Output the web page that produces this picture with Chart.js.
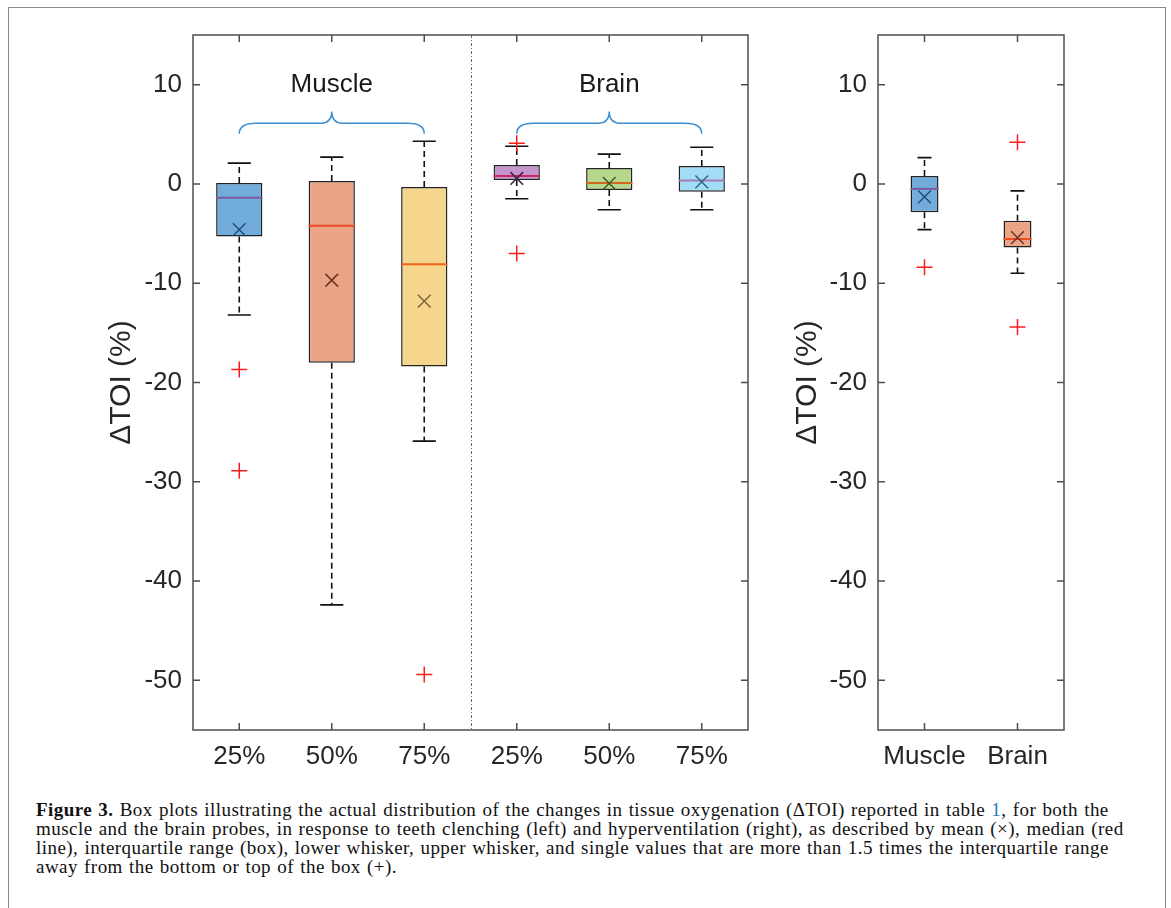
<!DOCTYPE html>
<html>
<head>
<meta charset="utf-8">
<script src="https://cdn.jsdelivr.net/npm/chart.js@4.4.1/dist/chart.umd.min.js"></script>
<style>
  html, body { margin: 0; padding: 0; background: #fff; overflow: hidden; }
  .frame { position: absolute; left: 8px; top: 7px; width: 1156px; height: 930px; border: 1.5px solid #8a8a8a; }
  .plot { position: absolute; top: 0; }
  #leftWrap { left: 0; }
  #rightWrap { left: 770px; }
  .caption { position: absolute; left: 36px; top: 800px; font-family: "Liberation Serif", "Times New Roman", serif;
             font-size: 19px; letter-spacing: 0.45px; word-spacing: 1px; line-height: 19px; color: #111; white-space: nowrap; }
  .caption .ref { color: #1a7bc0; }
</style>
</head>
<body>
<div class="frame"></div>
<div class="plot" id="leftWrap"><canvas id="clench" width="760" height="790"></canvas></div>
<div class="plot" id="rightWrap"><canvas id="hypervent" width="306" height="790"></canvas></div>
<div class="caption">
  <div><b>Figure 3.</b> Box plots illustrating the actual distribution of the changes in tissue oxygenation (ΔTOI) reported in table <span class="ref">1</span>, for both the</div>
  <div>muscle and the brain probes, in response to teeth clenching (left) and hyperventilation (right), as described by mean (×), median (red</div>
  <div>line), interquartile range (box), lower whisker, upper whisker, and single values that are more than 1.5 times the interquartile range</div>
  <div>away from the bottom or top of the box (+).</div>
</div>
<script>
// teeth clenching: muscle 25/50/75% then brain 25/50/75%
const clenchLabels = ["25%", "50%", "75%", "25%", "50%", "75%"];
const clenchLow  = [-13.2, -42.4, -25.9, -1.5, -2.6, -2.6];
const clenchQ1   = [-5.3, -18.0, -18.4, 0.4, -0.6, -0.8];
const clenchMed  = [-1.4, -4.2, -8.1, 0.8, 0.1, 0.35];
const clenchQ3   = [0.1, 0.3, -0.3, 1.9, 1.6, 1.8];
const clenchHigh = [2.1, 2.7, 4.3, 3.8, 3.0, 3.7];
const clenchMean = [-4.6, -9.7, -11.8, 0.55, 0.05, 0.2];
const clenchOut  = [[-18.7, -28.9], [], [-49.4], [4.1, -7.0], [], []];

// hyperventilation
const hvLabels = ["Muscle", "Brain"];
const hvLow  = [-4.6, -9.0];
const hvQ1   = [-2.85, -6.4];
const hvMed  = [-0.5, -5.55];
const hvQ3   = [0.8, -3.7];
const hvHigh = [2.65, -0.7];
const hvMean = [-1.3, -5.4];
const hvOut  = [[-8.4], [4.2, -14.4]];

const yTicks = [-50, -40, -30, -20, -10, 0, 10];
const clenchGroups = [{ label: "Muscle", from: 1, to: 3 }, { label: "Brain", from: 4, to: 6 }];

const FONT = '"Liberation Sans", Arial, Helvetica, sans-serif';
const INK = "#262626";
const AXIS = "#4d4d4d";

const clenchFill = ["#72acdb", "#eba486", "#f6d68c", "#c795cd", "#b7d88c", "#a3dcf5"];
const clenchMedC = ["#7d5a9e", "#ec4a22", "#f2601c", "#cc2565", "#d4681d", "#a77bb6"];
const clenchMeanC = ["#1e4f78", "#6e3526", "#7d6334", "#3a2440", "#3f5a27", "#2f6a82"];
const hvFill = ["#72acdb", "#eba486"];
const hvMedC = ["#7d5a9e", "#ec4a22"];
const hvMeanC = ["#1e4f78", "#6e3526"];

// curly brace between two x pixels, opening downward
function brace(ctx, x1, x2, yTip, yFlat, yPeak) {
  const xm = (x1 + x2) / 2, r = 17, rm = 12;
  ctx.beginPath();
  ctx.moveTo(x1, yTip);
  ctx.quadraticCurveTo(x1, yFlat, x1 + r, yFlat);
  ctx.lineTo(xm - rm, yFlat);
  ctx.quadraticCurveTo(xm, yFlat, xm, yPeak);
  ctx.quadraticCurveTo(xm, yFlat, xm + rm, yFlat);
  ctx.lineTo(x2 - r, yFlat);
  ctx.quadraticCurveTo(x2, yFlat, x2, yTip);
  ctx.stroke();
}

const framePlugin = {
  id: "frame",
  beforeDatasetsDraw(chart, args, opts) {
    const { ctx, chartArea: a, scales: { x, y } } = chart;
    ctx.save();
    if (opts.split) {
      const px = Math.round(x.getPixelForValue(opts.split)) + 0.5;
      ctx.strokeStyle = "#6a6a6a";
      ctx.lineWidth = 1;
      ctx.setLineDash([3, 2, 1, 2]);
      ctx.beginPath();
      ctx.moveTo(px, a.top);
      ctx.lineTo(px, a.bottom);
      ctx.stroke();
      ctx.setLineDash([]);
    }
    (opts.groups || []).forEach(g => {
      ctx.strokeStyle = "#3d8ed0";
      ctx.lineWidth = 1.5;
      brace(ctx, x.getPixelForValue(g.from), x.getPixelForValue(g.to),
        y.getPixelForValue(5.05), y.getPixelForValue(6.1), y.getPixelForValue(7.3));
      ctx.fillStyle = "#1a1a1a";
      ctx.font = "26px " + FONT;
      ctx.textAlign = "center";
      ctx.textBaseline = "middle";
      ctx.fillText(g.label, x.getPixelForValue((g.from + g.to) / 2), y.getPixelForValue(10));
    });
    ctx.restore();
  },
  afterDraw(chart) {
    const { ctx, chartArea: a, scales: { x, y } } = chart;
    const t = 7;
    ctx.save();
    ctx.strokeStyle = AXIS;
    ctx.lineWidth = 1.5;
    ctx.strokeRect(a.left, a.top, a.width, a.height);
    ctx.beginPath();
    x.ticks.forEach(k => {
      const px = x.getPixelForValue(k.value);
      ctx.moveTo(px, a.bottom); ctx.lineTo(px, a.bottom - t);
      ctx.moveTo(px, a.top); ctx.lineTo(px, a.top + t);
    });
    y.ticks.forEach(k => {
      const py = y.getPixelForValue(k.value);
      ctx.moveTo(a.left, py); ctx.lineTo(a.left + t, py);
      ctx.moveTo(a.right, py); ctx.lineTo(a.right - t, py);
    });
    ctx.stroke();
    ctx.restore();
  }
};

function boxChart(id, labels, lo, q1, med, q3, hi, mean, out, look) {
  const xs = labels.map((_, i) => i + 1);
  const gap = x => ({ x, y: null });
  const half = look.box / 2, cap = look.box / 4;
  const whiskers = [], caps = [], outliers = [];
  xs.forEach((x, i) => {
    whiskers.push({ x, y: q3[i] }, { x, y: hi[i] }, gap(x), { x, y: q1[i] }, { x, y: lo[i] }, gap(x));
    caps.push({ x: x - cap, y: hi[i] }, { x: x + cap, y: hi[i] }, gap(x),
              { x: x - cap, y: lo[i] }, { x: x + cap, y: lo[i] }, gap(x));
    out[i].forEach(v => outliers.push({ x, y: v }));
  });

  const datasets = [
    {
      type: "bar", order: 6,
      data: xs.map((x, i) => ({ x, y: [q1[i], q3[i]] })),
      backgroundColor: look.fill, borderColor: "#222", borderWidth: 1.5, borderSkipped: false,
      barPercentage: look.box, categoryPercentage: 1
    },
    {
      type: "line", order: 5, data: whiskers, borderColor: "#111", borderWidth: 1.6,
      borderDash: [6, 4], pointRadius: 0, spanGaps: false, fill: false
    },
    {
      type: "line", order: 5, data: caps, borderColor: "#111", borderWidth: 1.6,
      pointRadius: 0, spanGaps: false, fill: false
    }
  ];
  xs.forEach((x, i) => datasets.push({
    type: "line", order: 3, data: [{ x: x - half, y: med[i] }, { x: x + half, y: med[i] }],
    borderColor: look.med[i], borderWidth: 2, pointRadius: 0, fill: false
  }));
  datasets.push({
    type: "line", order: 1, showLine: false, data: xs.map((x, i) => ({ x, y: mean[i] })),
    pointStyle: "crossRot", pointRadius: 9, pointBorderWidth: 1.5,
    pointBorderColor: look.mean, pointBackgroundColor: "transparent"
  });
  datasets.push({
    type: "line", order: 1, showLine: false, data: outliers,
    pointStyle: "cross", pointRadius: 8, pointBorderWidth: 1.5,
    pointBorderColor: "#ff1a1a", pointBackgroundColor: "transparent"
  });

  return new Chart(id, {
    type: "bar",
    data: { datasets },
    plugins: [framePlugin],
    options: {
      responsive: false,
      animation: false,
      events: [],
      layout: { padding: { top: 35, right: 12, left: 0, bottom: 0 } },
      plugins: {
        legend: { display: false },
        tooltip: { enabled: false },
        frame: { groups: look.groups, split: look.split }
      },
      scales: {
        x: {
          type: "linear", min: 0.5, max: labels.length + 0.5, offset: false,
          grid: { display: false, drawTicks: false }, border: { display: false },
          afterBuildTicks: s => { s.ticks = xs.map(v => ({ value: v })); },
          afterFit: s => { s.height = 60; },
          ticks: {
            autoSkip: false, maxRotation: 0, padding: 11, color: INK,
            font: { family: FONT, size: 26 }, callback: v => labels[v - 1]
          }
        },
        y: {
          type: "linear", min: -55, max: 15,
          grid: { display: false, drawTicks: false }, border: { display: false },
          afterBuildTicks: s => { s.ticks = yTicks.map(v => ({ value: v })); },
          afterFit: s => { s.width = look.axisWidth; },
          ticks: { padding: 11, color: INK, font: { family: FONT, size: 26 } },
          title: {
            display: true, text: "ΔTOI (%)", color: INK,
            font: { family: FONT, size: 30 }, padding: { top: look.titlePad, bottom: 0 }
          }
        }
      }
    }
  });
}

boxChart("clench", clenchLabels, clenchLow, clenchQ1, clenchMed, clenchQ3, clenchHigh, clenchMean, clenchOut, {
  box: 0.5, fill: clenchFill, med: clenchMedC, mean: clenchMeanC,
  axisWidth: 193, titlePad: 104, groups: clenchGroups, split: 3.5
});

boxChart("hypervent", hvLabels, hvLow, hvQ1, hvMed, hvQ3, hvHigh, hvMean, hvOut, {
  box: 0.3, fill: hvFill, med: hvMedC, mean: hvMeanC,
  axisWidth: 108, titlePad: 20
});
</script>
</body>
</html>
